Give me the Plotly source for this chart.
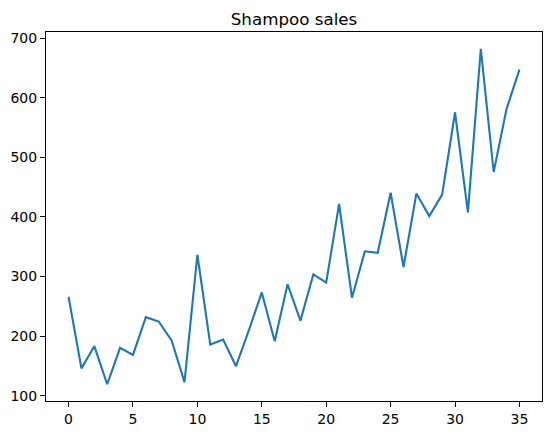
import plotly.graph_objects as go

months = list(range(36))
sales = [266.0, 145.9, 183.1, 119.3, 180.3, 168.5, 231.8, 224.5, 192.8, 122.9,
         336.5, 185.9, 194.3, 149.5, 210.1, 273.3, 191.4, 287.0, 226.0, 303.6,
         289.9, 421.6, 264.5, 342.3, 339.7, 440.4, 315.9, 439.3, 401.3, 437.4,
         575.5, 407.6, 682.0, 475.3, 581.3, 646.9]

x_ticks = [0, 5, 10, 15, 20, 25, 30, 35]
y_ticks = [100, 200, 300, 400, 500, 600, 700]

fig = go.Figure()
fig.add_trace(go.Scatter(x=months, y=sales, mode='lines',
                         line=dict(color='#1f77b4', width=2.1)))

axis_style = dict(showgrid=False, zeroline=False, showline=True, linecolor='black',
                  linewidth=1.1, mirror=True, ticks='outside', ticklen=5, tickwidth=1.1,
                  tickcolor='black', tickfont=dict(family='DejaVu Sans', size=14, color='black'))

fig.update_layout(
    width=552, height=435,
    margin=dict(l=46, r=9.5, t=32, b=33.5),
    paper_bgcolor='white', plot_bgcolor='white',
    showlegend=False,
    title=dict(text='Shampoo sales', x=0.5, xref='paper', xanchor='center',
               y=1, yref='paper', yanchor='bottom', pad=dict(b=7),
               font=dict(family='DejaVu Sans', size=16.7, color='black')),
    xaxis=dict(range=[-1.75, 36.75], tickvals=x_ticks, **axis_style),
    yaxis=dict(range=[91.165, 710.135], tickvals=y_ticks, **axis_style),
)

# drop the default 8px page margin so the figure sits at the window corner
fig.write_html("out.html", config={'displayModeBar': False},
               post_script="document.body.style.margin='0';")
